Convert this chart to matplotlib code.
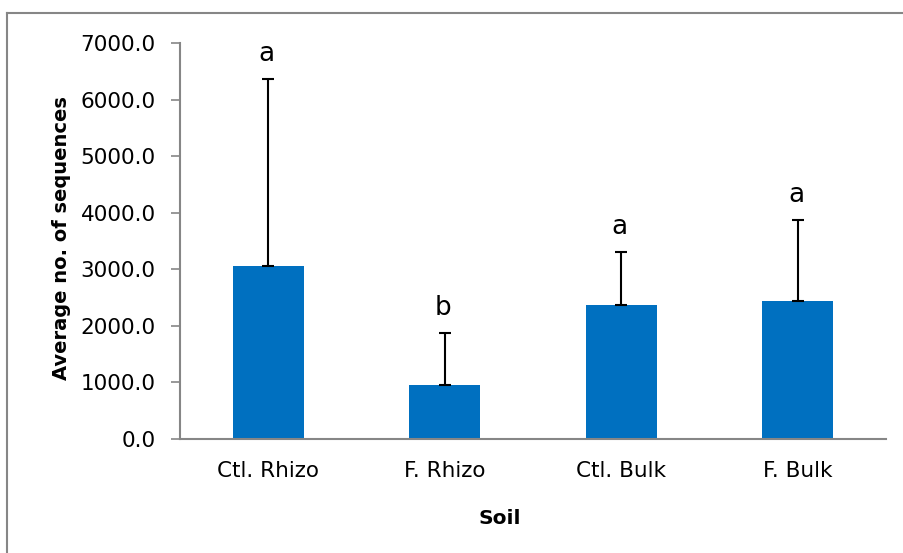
import numpy as np
import matplotlib
matplotlib.use("Agg")
import matplotlib.pyplot as plt
from matplotlib.lines import Line2D

# data
categories = ["Ctl. Rhizo", "F. Rhizo", "Ctl. Bulk", "F. Bulk"]
means = [3055, 950, 2370, 2450]
upper_err = [3310, 920, 945, 1430]
letters = ["a", "b", "a", "a"]

bar_color = "#0070C0"
axis_gray = "#868686"

fig = plt.figure(figsize=(9.04, 5.53), dpi=100)
ax = fig.add_axes([180 / 904, 1 - 439 / 553, 706 / 904, (439 - 43.3) / 553])

x = np.arange(len(categories))
ax.bar(x, means, width=0.4, color=bar_color, zorder=2)
ax.errorbar(x, means, yerr=[np.zeros(len(means)), upper_err], fmt="none",
            ecolor="black", elinewidth=1.5, capsize=4.5, capthick=1.5, zorder=3)

# significance letters above the error bars
for xi, m, e, lab in zip(x, means, upper_err, letters):
    ax.annotate(lab, xy=(xi, m + e), xytext=(-1, 13), textcoords="offset points",
                ha="center", va="baseline", fontsize=19)

ax.set_xlim(-0.5, len(categories) - 0.5)
ax.set_ylim(0, 7000)
ax.set_yticks(np.arange(0, 7001, 1000))
ax.set_yticklabels([f"{v:.1f}" for v in np.arange(0, 7001, 1000)])
ax.set_xticks(x)
ax.set_xticklabels(categories)

ax.tick_params(axis="y", length=6.5, width=1.2, color=axis_gray, pad=11, labelsize=15.5)
ax.tick_params(axis="x", length=0, pad=16, labelsize=15.5)

for s in ["top", "right"]:
    ax.spines[s].set_visible(False)
for s in ["left", "bottom"]:
    ax.spines[s].set_color(axis_gray)
    ax.spines[s].set_linewidth(1.5)

fig.text(62 / 904, 1 - 238 / 553, "Average no. of sequences", rotation=90,
         ha="center", va="center", fontsize=14, fontweight="bold")
fig.text(500 / 904, 1 - 518 / 553, "Soil", ha="center", va="center",
         fontsize=14.5, fontweight="bold")

# outer chart frame (only left and top edges fall inside the image)
fig.add_artist(Line2D([7 / 904, 7 / 904], [0, 1 - 13 / 553], color=axis_gray, lw=1.5))
fig.add_artist(Line2D([7 / 904, 1], [1 - 13 / 553, 1 - 13 / 553], color=axis_gray, lw=1.5))

fig.savefig("out.png", dpi=100)
